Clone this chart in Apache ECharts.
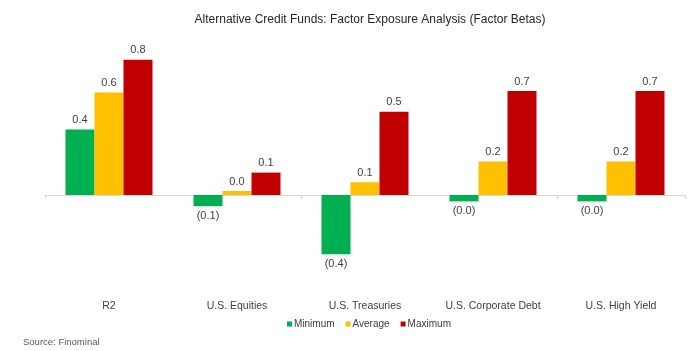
<!DOCTYPE html>
<html style="height: 100%">
<head>
  <meta charset="utf-8">
  <script src="https://cdn.jsdelivr.net/npm/echarts@6/dist/echarts.min.js"></script>
</head>
<body style="height: 100%; margin: 0; background: #fff">
<div id="container" style="width: 700px; height: 351px"></div>
<script>
var categories = ['R2', 'U.S. Equities', 'U.S. Treasuries', 'U.S. Corporate Debt', 'U.S. High Yield'];
var minimum = [0.41, -0.07, -0.37, -0.04, -0.04];
var average = [0.64, 0.025, 0.08, 0.21, 0.21];
var maximum = [0.845, 0.14, 0.52, 0.65, 0.65];

function fmt(p) {
  var v = Math.round(Math.abs(p.value) * 10) / 10;
  var s = v.toFixed(1);
  return p.value < 0 ? '(' + s + ')' : s;
}

var labelStyle = {
  show: true,
  position: 'top',
  distance: 4,
  color: '#404040',
  fontSize: 11,
  fontFamily: 'Liberation Sans',
  formatter: fmt
};

function makeSeries(name, data, color) {
  return {
    name: name,
    type: 'bar',
    xAxisIndex: 0,
    data: data.map(function (v) {
      return { value: v, label: { position: v < 0 ? 'bottom' : 'top' } };
    }),
    barWidth: 29,
    barGap: '0%',
    itemStyle: { color: color },
    label: labelStyle
  };
}

var chart = echarts.init(document.getElementById('container'));
chart.setOption({
  animation: false,
  title: {
    text: 'Alternative Credit Funds: Factor Exposure Analysis (Factor Betas)',
    left: 365,
    top: 9,
    textAlign: 'center',
    textStyle: { fontSize: 12, fontWeight: 'normal', color: '#262626', fontFamily: 'Liberation Sans' }
  },
  legend: {
    data: ['Minimum', 'Average', 'Maximum'],
    left: 282,
    top: 314,
    icon: 'rect',
    itemWidth: 5,
    itemHeight: 5,
    itemGap: 11,
    textStyle: { fontSize: 10, color: '#404040', fontFamily: 'Liberation Sans', padding: [0, 0, 0, -3] }
  },
  grid: { left: 45, right: 15, top: 35, bottom: 76, outerBoundsMode: 'none' },
  xAxis: [{
    type: 'category',
    data: categories,
    axisLine: { onZero: true, lineStyle: { color: '#d9d9d9' } },
    axisTick: { show: true, length: 4, lineStyle: { color: '#d9d9d9' } },
    axisLabel: { show: false }
  }, {
    type: 'category',
    data: categories,
    position: 'bottom',
    axisLine: { show: false, onZero: false },
    axisTick: { show: false },
    axisLabel: { margin: 26, interval: 0, fontSize: 10.5, color: '#404040', fontFamily: 'Liberation Sans' }
  }],
  yAxis: {
    type: 'value',
    min: -0.5,
    max: 1.0,
    show: false,
    splitLine: { show: false }
  },
  graphic: [{
    type: 'text',
    left: 23,
    top: 337,
    style: { text: 'Source: Finominal', fontSize: 9.5, fill: '#595959', fontFamily: 'Liberation Sans' }
  }],
  series: [
    makeSeries('Minimum', minimum, '#00B050'),
    makeSeries('Average', average, '#FFC000'),
    makeSeries('Maximum', maximum, '#C00000')
  ]
});
</script>
</body>
</html>
